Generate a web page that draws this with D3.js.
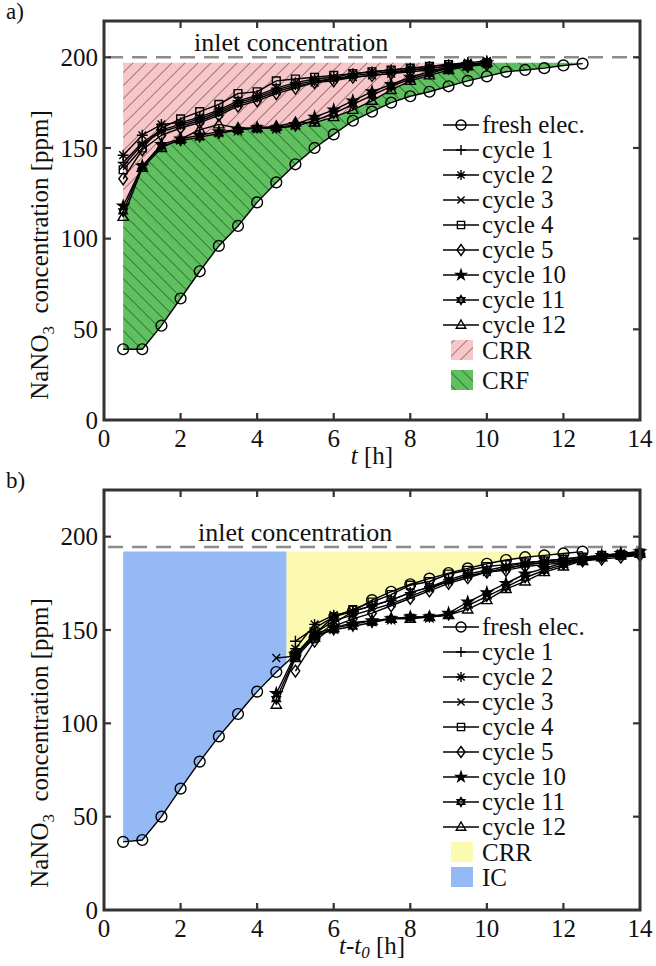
<!DOCTYPE html>
<html>
<head>
<meta charset="utf-8">
<script src="https://cdn.jsdelivr.net/npm/d3@7"></script>
<style>
  body { margin: 0; background: #fff; }
  svg text { font-family: "Liberation Serif", "Times New Roman", serif; fill: #111; }
</style>
</head>
<body>
<svg id="chart" width="656" height="966"></svg>
<script>
// ---- data ----
const seriesNames = ['fresh elec.', 'cycle 1', 'cycle 2', 'cycle 3', 'cycle 4', 'cycle 5', 'cycle 10', 'cycle 11', 'cycle 12'];
const markerTypes = ['circle', 'plus', 'asterisk', 'cross', 'square', 'diamond', 'star', 'hexagram', 'triangle'];

const xTicks = [0, 2, 4, 6, 8, 10, 12, 14];
const yTicks = [0, 50, 100, 150, 200];

// panel a) : concentration vs t
const freshTime = [0.5, 1, 1.5, 2, 2.5, 3, 3.5, 4, 4.5, 5, 5.5, 6, 6.5, 7, 7.5, 8, 8.5, 9, 9.5, 10, 10.5, 11, 11.5, 12, 12.5];
const cycleTime = [0.5, 1, 1.5, 2, 2.5, 3, 3.5, 4, 4.5, 5, 5.5, 6, 6.5, 7, 7.5, 8, 8.5, 9, 9.5, 10];
const freshA   = [39, 39, 52, 67, 82, 96, 107, 120, 131, 141, 150, 157.5, 165, 170, 175, 178.5, 181, 184, 187, 189.5, 192, 193, 194, 195.5, 196.5];
const cycle1A  = [142, 153, 160, 163, 166, 170, 175, 178, 182, 185, 187, 188, 190, 191, 192, 193, 194, 195, 196, 197];
const cycle2A  = [146, 157, 163, 164, 167, 171, 176, 179, 183, 186, 188, 189, 191, 192, 193, 194, 195, 196, 197, 198];
const cycle3A  = [140, 152, 159, 162, 165, 169, 174, 177, 181, 184, 186, 188, 189, 190, 191, 193, 194, 195, 196, 197];
const cycle4A  = [138, 150, 161, 166, 170, 174, 180, 181, 187, 188, 189, 190, 191, 192, 193, 194, 195, 196, 196, 197];
const cycle5A  = [133, 149, 157, 161, 164, 168, 173, 176, 180, 183, 186, 187, 189, 190, 191, 192, 193, 194, 195, 196];
const cycle10A = [118, 140, 152, 155, 157, 159, 160, 161, 161, 163, 167, 171, 176, 181, 185, 189, 192, 194, 196, 197];
const cycle11A = [115, 140, 151, 154, 156, 158, 160, 161, 161, 162, 165, 169, 174, 179, 184, 188, 191, 194, 196, 197];
const cycle12A = [112, 139, 150, 155, 160, 163, 161, 161, 162, 164, 164, 167, 171, 176, 182, 187, 190, 193, 195, 197];
const inletA = 200;
const fillTopA = 197;

// panel b) : concentration vs t - t0
const shiftedTimeLate  = [5, 5.5, 6, 6.5, 7, 7.5, 8, 8.5, 9, 9.5, 10, 10.5, 11, 11.5, 12, 12.5, 13, 13.5, 14, 14.5];
const shiftedTimeEarly = [4.5, 5, 5.5, 6, 6.5, 7, 7.5, 8, 8.5, 9, 9.5, 10, 10.5, 11, 11.5, 12, 12.5, 13, 13.5, 14];
const freshB   = [36.5, 37.5, 50, 65, 79.5, 93, 105, 117, 127.5, 137, 146, 153.5, 160, 166, 170.5, 174.5, 177.5, 180.5, 183, 185.5, 187.5, 189, 190, 191, 192];
const cycle1B  = [144, 151, 157, 160, 163, 166, 170, 173, 176, 179, 181, 183, 185, 186, 187, 188, 189, 190, 190, 191];
const cycle2B  = [140, 153, 158, 160, 163, 166, 170, 173, 177, 180, 182, 184, 186, 187, 188, 189, 190, 191, 191, 192];
const cycle3B  = [135, 136, 148, 155, 158, 161, 164, 168, 172, 176, 179, 181, 183, 185, 186, 187, 188, 189, 190, 191];
const cycle4B  = [136, 148, 157, 161, 165, 169, 174, 176, 180, 182, 184, 185, 186, 187, 188, 189, 190, 190, 191, 191];
const cycle5B  = [128, 144, 152, 156, 159, 163, 167, 171, 175, 178, 181, 182, 184, 185, 186, 187, 188, 189, 190, 190];
const cycle10B = [116, 137, 148, 151, 153, 155, 156, 157, 157, 159, 165, 170, 175, 180, 183, 186, 188, 190, 191, 192];
const cycle11B = [113, 136, 147, 150, 152, 154, 156, 157, 157, 158, 163, 168, 173, 178, 182, 185, 187, 189, 191, 192];
const cycle12B = [110, 135, 146, 151, 154, 155, 156, 156, 157, 158, 161, 166, 172, 176, 181, 184, 187, 189, 190, 191];
const inletB = 194.5;
const fillTopB = 192;
const icSplitB = 4.77;

// ---- helpers ----
const svg = d3.select('#chart');
const defs = svg.append('defs');

function hatch(id, angle, bg, stroke) {
    const p = defs.append('pattern')
        .attr('id', id)
        .attr('patternUnits', 'userSpaceOnUse')
        .attr('width', 9.2).attr('height', 9.2)
        .attr('patternTransform', `rotate(${angle})`);
    p.append('rect').attr('width', 9.2).attr('height', 9.2).attr('fill', bg);
    p.append('line').attr('x1', 0).attr('y1', 0).attr('x2', 0).attr('y2', 9.2)
        .attr('stroke', stroke).attr('stroke-width', 1.1);
}
hatch('hatchCRR', 45, '#f6c6c8', '#5e3c3f');
hatch('hatchCRF', -45, '#5fc05f', '#183818');

function markerPath(type, r) {
    const a = r * 0.72;
    switch (type) {
        case 'circle': return d3.symbol(d3.symbolCircle, Math.PI * r * r)();
        case 'plus': return `M${-r},0H${r}M0,${-r}V${r}`;
        case 'asterisk': return `M${-r},0H${r}M0,${-r}V${r}M${-a},${-a}L${a},${a}M${-a},${a}L${a},${-a}`;
        case 'cross': return `M${-a},${-a}L${a},${a}M${-a},${a}L${a},${-a}`;
        case 'square': return `M${-a},${-a}H${a}V${a}H${-a}Z`;
        case 'diamond': return `M0,${-r * 1.1}L${r * 0.8},0L0,${r * 1.1}L${-r * 0.8},0Z`;
        case 'star': return d3.symbol(d3.symbolStar, r * r * 1.2)();
        case 'hexagram': {
            const h = r * 0.9, w = r * 0.78;
            return `M0,${-h}L${w},${h * 0.5}L${-w},${h * 0.5}ZM0,${h}L${w},${-h * 0.5}L${-w},${-h * 0.5}Z`;
        }
        case 'triangle': return `M0,${-r}L${r * 0.95},${r * 0.65}L${-r * 0.95},${r * 0.65}Z`;
    }
}

function drawPanel(cfg) {
    const g = svg.append('g');
    const x = d3.scaleLinear().domain([0, 14]).range([cfg.left, cfg.right]);
    const y = d3.scaleLinear().domain([0, cfg.yMax]).range([cfg.bottom, cfg.top]);
    const line = d3.line().x(d => x(d[0])).y(d => y(d[1]));

    const clipId = 'clip' + cfg.id;
    defs.append('clipPath').attr('id', clipId)
        .append('rect')
        .attr('x', cfg.left).attr('y', cfg.top)
        .attr('width', cfg.right - cfg.left).attr('height', cfg.bottom - cfg.top);

    // shaded regions
    cfg.regions.forEach(reg => {
        g.append('path')
            .attr('d', line(reg.points) + 'Z')
            .attr('fill', reg.fill)
            .attr('stroke', 'none');
    });

    // inlet concentration
    g.append('line')
        .attr('x1', cfg.left + 4).attr('x2', cfg.right)
        .attr('y1', y(cfg.inlet)).attr('y2', y(cfg.inlet))
        .attr('stroke', '#8c8c8c').attr('stroke-width', 2.6)
        .attr('stroke-dasharray', '15,9');
    g.append('text')
        .attr('x', cfg.inletTextX).attr('y', y(cfg.inlet) - 6)
        .attr('font-size', 26)
        .text('inlet concentration');

    // series
    const seriesG = g.append('g').attr('clip-path', `url(#${clipId})`);
    cfg.series.forEach((s, i) => {
        const pts = s.time.map((t, k) => [t, s.values[k]]);
        seriesG.append('path')
            .attr('d', line(pts))
            .attr('fill', 'none')
            .attr('stroke', '#000')
            .attr('stroke-width', 1.4);
    });
    cfg.series.forEach((s, i) => {
        const pts = s.time.map((t, k) => [t, s.values[k]]).filter(p => p[0] <= 14);
        g.append('g').selectAll('path')
            .data(pts)
            .enter()
            .append('path')
            .attr('transform', d => `translate(${x(d[0])},${y(d[1])})`)
            .attr('d', markerPath(markerTypes[i], 5.4))
            .attr('fill', markerTypes[i] === 'star' ? '#000' : 'none')
            .attr('stroke', '#000')
            .attr('stroke-width', 1.4);
    });

    // frame + inward ticks
    const tickLen = 7;
    const ax = g.append('g').attr('stroke', '#333').attr('stroke-width', 2.2);
    xTicks.slice(1, -1).forEach(v => {
        ax.append('line').attr('x1', x(v)).attr('x2', x(v)).attr('y1', cfg.bottom).attr('y2', cfg.bottom - tickLen);
        ax.append('line').attr('x1', x(v)).attr('x2', x(v)).attr('y1', cfg.top).attr('y2', cfg.top + tickLen);
    });
    yTicks.slice(1).forEach(v => {
        ax.append('line').attr('x1', cfg.left).attr('x2', cfg.left + tickLen).attr('y1', y(v)).attr('y2', y(v));
        ax.append('line').attr('x1', cfg.right).attr('x2', cfg.right - tickLen).attr('y1', y(v)).attr('y2', y(v));
    });
    g.append('rect')
        .attr('x', cfg.left).attr('y', cfg.top)
        .attr('width', cfg.right - cfg.left).attr('height', cfg.bottom - cfg.top)
        .attr('fill', 'none').attr('stroke', '#333').attr('stroke-width', 3);

    // tick labels
    g.append('g').selectAll('text')
        .data(xTicks).enter().append('text')
        .attr('x', d => x(d)).attr('y', cfg.bottom + 27)
        .attr('text-anchor', 'middle').attr('font-size', 25)
        .text(d => d);
    g.append('g').selectAll('text')
        .data(yTicks).enter().append('text')
        .attr('x', cfg.left - 6).attr('y', d => y(d))
        .attr('dy', '0.35em')
        .attr('text-anchor', 'end').attr('font-size', 25)
        .text(d => d);

    // axis titles
    const yt = g.append('text')
        .attr('transform', `translate(48,${cfg.yTitleY}) rotate(-90)`)
        .attr('text-anchor', 'middle').attr('font-size', 25);
    yt.append('tspan').text('NaNO');
    yt.append('tspan').attr('font-size', 17).attr('dy', 6).text('3');
    yt.append('tspan').attr('dy', -6).text('\u00a0 concentration [ppm]');

    const xt = g.append('text')
        .attr('x', (cfg.left + cfg.right) / 2).attr('y', cfg.bottom + 44)
        .attr('text-anchor', 'middle').attr('font-size', 25);
    cfg.xTitle(xt);

    g.append('text')
        .attr('x', 6).attr('y', cfg.top - 2)
        .attr('font-size', 23)
        .text(cfg.label);

    // legend
    const lg = g.append('g');
    seriesNames.forEach((name, i) => {
        const cy = cfg.legendY + i * 25;
        lg.append('line').attr('x1', 443).attr('x2', 479).attr('y1', cy).attr('y2', cy)
            .attr('stroke', '#000').attr('stroke-width', 1.4);
        lg.append('path')
            .attr('transform', `translate(461,${cy})`)
            .attr('d', markerPath(markerTypes[i], 5))
            .attr('fill', markerTypes[i] === 'star' ? '#000' : 'none')
            .attr('stroke', '#000').attr('stroke-width', 1.4);
        lg.append('text').attr('x', 482).attr('y', cy + 8).attr('font-size', 25).text(name);
    });
    cfg.patches.forEach((p, j) => {
        const top = cfg.legendY + 9 * 25 - 10 + j * p.step;
        lg.append('rect').attr('x', 451).attr('y', top).attr('width', 22).attr('height', 20)
            .attr('fill', p.fill);
        lg.append('text').attr('x', 482).attr('y', top + 19).attr('font-size', 25).text(p.name);
    });
}

// ---- panel a ----
const lowerBoundA = cycleTime.map((t, k) => [t, d3.min([cycle10A[k], cycle11A[k], cycle12A[k]])]);
const freshPtsA = freshTime.map((t, k) => [t, freshA[k]]);
const crrA = [[cycleTime[0], fillTopA], [cycleTime[cycleTime.length - 1], fillTopA]]
    .concat(lowerBoundA.slice().reverse());
const crfA = lowerBoundA
    .concat([[freshTime[freshTime.length - 1], fillTopA]])
    .concat(freshPtsA.slice().reverse());

drawPanel({
    id: 'A', label: 'a)',
    left: 104, right: 640, top: 21, bottom: 420, yMax: 220,
    inlet: inletA, inletTextX: 194,
    yTitleY: 255, legendY: 125,
    regions: [{ points: crrA, fill: 'url(#hatchCRR)' }, { points: crfA, fill: 'url(#hatchCRF)' }],
    series: [
        { time: freshTime, values: freshA },
        { time: cycleTime, values: cycle1A },
        { time: cycleTime, values: cycle2A },
        { time: cycleTime, values: cycle3A },
        { time: cycleTime, values: cycle4A },
        { time: cycleTime, values: cycle5A },
        { time: cycleTime, values: cycle10A },
        { time: cycleTime, values: cycle11A },
        { time: cycleTime, values: cycle12A }
    ],
    patches: [{ name: 'CRR', fill: 'url(#hatchCRR)', step: 30 }, { name: 'CRF', fill: 'url(#hatchCRF)', step: 30 }],
    xTitle: t => {
        t.append('tspan').attr('font-style', 'italic').text('t');
        t.append('tspan').text(' [h]');
    }
});

// ---- panel b ----
const freshInterpB = d3.scaleLinear().domain(freshTime).range(freshB);
const freshPtsB = freshTime.map((t, k) => [t, freshB[k]]);
const icB = [[freshTime[0], fillTopB], [icSplitB, fillTopB], [icSplitB, freshInterpB(icSplitB)]]
    .concat(freshPtsB.filter(p => p[0] < icSplitB).reverse());
const crrB = [[icSplitB, fillTopB], [freshTime[freshTime.length - 1], fillTopB]]
    .concat(freshPtsB.filter(p => p[0] > icSplitB).reverse().map(p => [p[0], Math.min(p[1], fillTopB)]))
    .concat([[icSplitB, freshInterpB(icSplitB)]]);

drawPanel({
    id: 'B', label: 'b)',
    left: 104, right: 640, top: 490, bottom: 910, yMax: 225,
    inlet: inletB, inletTextX: 198,
    yTitleY: 743, legendY: 627,
    regions: [{ points: icB, fill: '#95b9f5' }, { points: crrB, fill: '#fcfab0' }],
    series: [
        { time: freshTime, values: freshB },
        { time: shiftedTimeLate, values: cycle1B },
        { time: shiftedTimeLate, values: cycle2B },
        { time: shiftedTimeEarly, values: cycle3B },
        { time: shiftedTimeLate, values: cycle4B },
        { time: shiftedTimeLate, values: cycle5B },
        { time: shiftedTimeEarly, values: cycle10B },
        { time: shiftedTimeEarly, values: cycle11B },
        { time: shiftedTimeEarly, values: cycle12B }
    ],
    patches: [{ name: 'CRR', fill: '#fcfab0', step: 25 }, { name: 'IC', fill: '#95b9f5', step: 25 }],
    xTitle: t => {
        t.append('tspan').attr('font-style', 'italic').text('t');
        t.append('tspan').text('-');
        t.append('tspan').attr('font-style', 'italic').text('t');
        t.append('tspan').attr('font-style', 'italic').attr('font-size', 17).attr('dy', 4).text('0');
        t.append('tspan').attr('dy', -4).text(' [h]');
    }
});
</script>
</body>
</html>
